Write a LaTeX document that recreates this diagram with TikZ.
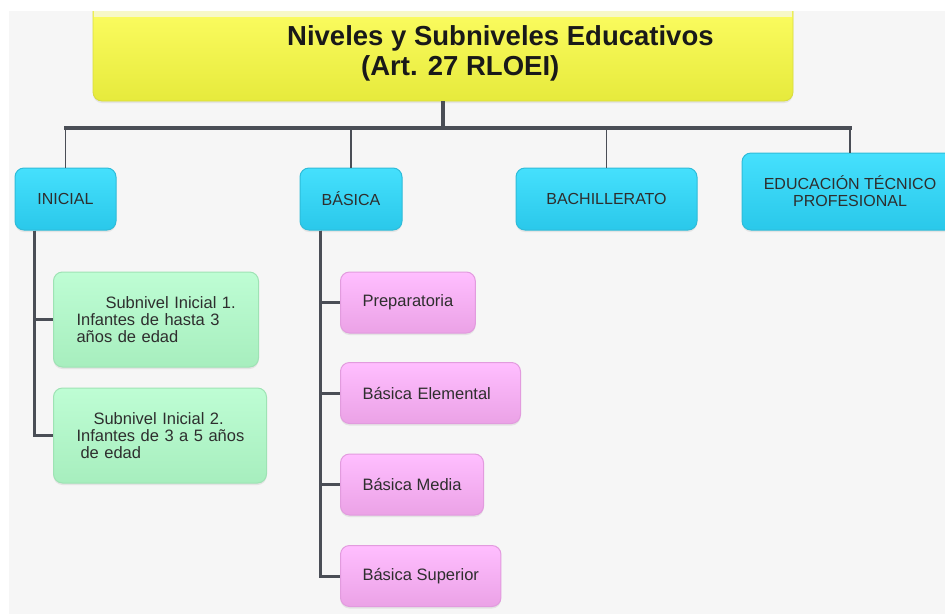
\documentclass[tikz,border=0pt]{standalone}
\usepackage{fontspec}
\setmainfont{Liberation Sans}
\usepackage{tikz}
\usetikzlibrary{shadows}
\usepackage{xcolor}
\definecolor{fondo}{HTML}{F6F6F6}
\definecolor{amarilloalto}{HTML}{FFFF66}
\definecolor{amarillobajo}{HTML}{E6EA3C}
\definecolor{amarilloborde}{HTML}{D8DC40}
\definecolor{amarillopalido}{HTML}{F7F8C6}
\definecolor{cyanalto}{HTML}{45E0FD}
\definecolor{cyanbajo}{HTML}{2AC8EA}
\definecolor{cyanborde}{HTML}{2EBCD9}
\definecolor{verdealto}{HTML}{BEFDD4}
\definecolor{verdebajo}{HTML}{A7EEBE}
\definecolor{verdeborde}{HTML}{9EE3B4}
\definecolor{rosaalto}{HTML}{FFBEFF}
\definecolor{rosabajo}{HTML}{EBA2E6}
\definecolor{rosaborde}{HTML}{E29BDE}
\definecolor{lineacolor}{HTML}{4A4E56}
\definecolor{texto}{HTML}{2E2E2E}

\begin{document}
\begin{tikzpicture}[x=1pt,y=-1pt,
  sombra/.style={drop shadow={shadow xshift=0pt,shadow yshift=-2pt,opacity=.15}},
  titulo/.style={rounded corners=9pt, draw=amarilloborde, line width=.8pt, top color=amarilloalto, bottom color=amarillobajo, minimum width=700pt, minimum height=106pt, inner sep=0pt, sombra},
  titulotexto/.style={anchor=west, inner sep=0pt, align=left, text=black!90, font=\fontsize{27.5}{30}\selectfont\bfseries},
  nivel/.style={rounded corners=9pt, draw=cyanborde, line width=1pt, top color=cyanalto, bottom color=cyanbajo, minimum height=62pt, inner sep=0pt, align=center, text=texto, font=\fontsize{16}{17}\selectfont, sombra},
  subinicial/.style={rounded corners=9pt, draw=verdeborde, line width=1pt, top color=verdealto, bottom color=verdebajo, minimum height=95pt, anchor=west, inner xsep=23pt, align=left, text=texto, font=\fontsize{16.5}{17}\selectfont, sombra},
  subbasica/.style={rounded corners=9pt, draw=rosaborde, line width=1pt, top color=rosaalto, bottom color=rosabajo, minimum height=61pt, anchor=west, inner xsep=22pt, text=texto, font=\fontsize{16.5}{17}\selectfont, sombra},
  tronco/.style={draw=lineacolor, line width=3.5pt},
  bajada/.style={draw=lineacolor, line width=1.5pt},
  rama/.style={draw=lineacolor, line width=3pt, line join=miter}]

\useasboundingbox (0,0) rectangle (945,614);
\fill [white] (0,0) rectangle (945,614);
\fill [fondo] (9,11) rectangle (945,614);

\begin{scope}
\clip (9,11) rectangle (945,614);
\node [titulo] (titulo) at (443,48) {};
\fill [amarillopalido] (94,11) rectangle (792,17);
\node [titulotexto] (titulotexto) at (287,53) {Niveles y Subniveles Educativos\\\hspace*{74pt}(Art. 27 RLOEI)};

\node [nivel, minimum width=101pt] (inicial) at (65.5,199) {INICIAL};
\node [nivel, minimum width=102pt] (basica) at (351,199) {BÁSICA};
\node [nivel, minimum width=181pt] (bachillerato) at (606.5,199) {BACHILLERATO};
\node [nivel, minimum width=216pt, minimum height=77pt] (tecnico) at (850,191.5) {EDUCACIÓN TÉCNICO\\PROFESIONAL};

\node [subinicial, text width=159pt] (inicial1) at (53,319.5) {\mbox{\hspace*{29pt}Subnivel Inicial 1.}\\\mbox{Infantes de hasta 3}\\\mbox{años de edad}};
\node [subinicial, text width=167pt] (inicial2) at (53,435.5) {\mbox{\hspace*{17pt}Subnivel Inicial 2.}\\\mbox{Infantes de 3 a 5 años}\\\mbox{\hspace*{4pt}de edad}};

\node [subbasica] (preparatoria) at (340,302.5) {Preparatoria};
\node [subbasica, minimum width=180pt, align=left, text width=136pt] (elemental) at (340,393) {Básica Elemental};
\node [subbasica] (media) at (340,484.5) {Básica Media};
\node [subbasica] (superior) at (340,576) {Básica Superior};

\coordinate (barra) at (443,128);
\draw [tronco] (titulo.south) -- (barra);
\draw [tronco, line cap=rect] (inicial.north |- barra) -- (tecnico.north |- barra);
\draw [bajada] (inicial.north |- barra) -- (inicial.north);
\draw [bajada] (basica.north |- barra) -- (basica.north);
\draw [bajada] (bachillerato.north |- barra) -- (bachillerato.north);
\draw [bajada] (tecnico.north |- barra) -- (tecnico.north);

\draw [rama] ([xshift=20pt]inicial.south west) |- (inicial1.west);
\draw [rama] ([xshift=20pt]inicial.south west) |- (inicial2.west);

\draw [rama] ([xshift=21pt]basica.south west) |- (preparatoria.west);
\draw [rama] ([xshift=21pt]basica.south west) |- (elemental.west);
\draw [rama] ([xshift=21pt]basica.south west) |- (media.west);
\draw [rama] ([xshift=21pt]basica.south west) |- (superior.west);
\end{scope}

\end{tikzpicture}
\end{document}
